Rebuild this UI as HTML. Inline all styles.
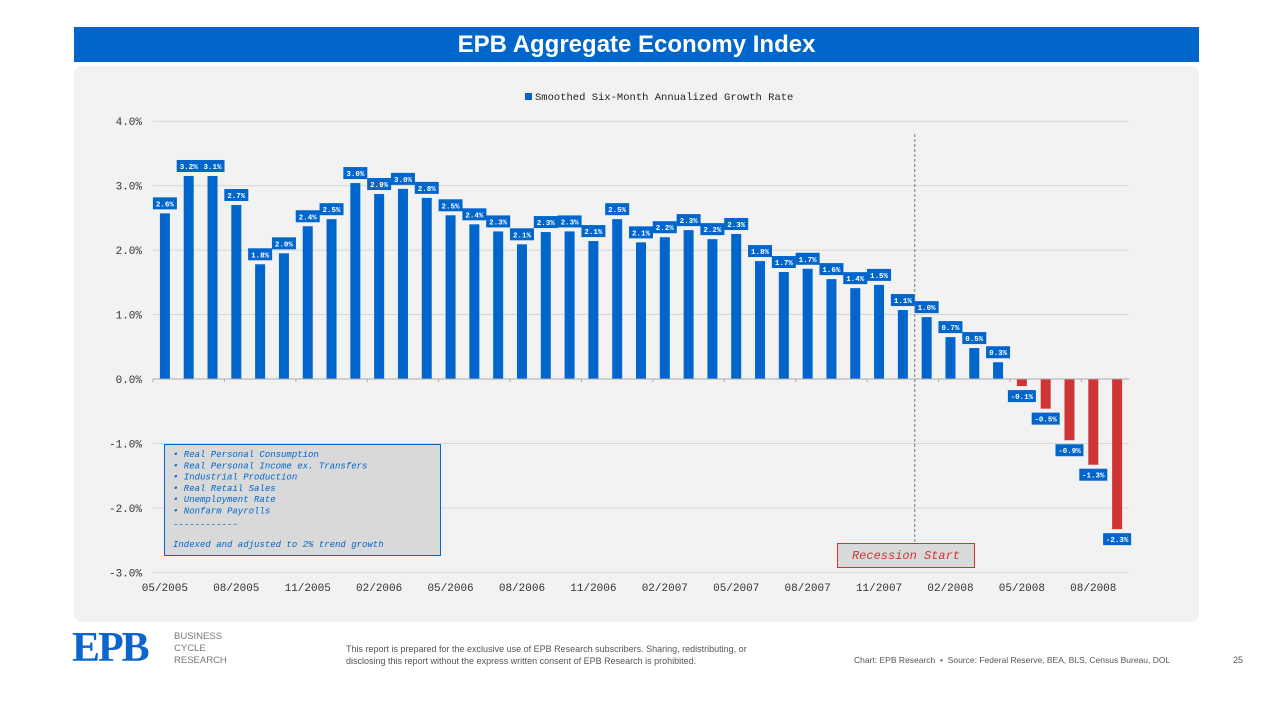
<!DOCTYPE html>
<html><head><meta charset="utf-8"><style>
body{margin:0;width:1275px;height:701px;background:#fff;font-family:"Liberation Sans",sans-serif;position:relative;overflow:hidden}
.abs{position:absolute}
</style></head><body>
<div class="abs" style="left:74px;top:27px;width:1125px;height:35px;background:#0066cc;color:#fff;font-weight:bold;font-size:24px;line-height:35px;text-align:center">EPB Aggregate Economy Index</div>
<div class="abs" style="left:74px;top:66px;width:1125px;height:556px;background:#f2f2f2;border-radius:8px"></div>
<svg class="abs" style="left:0;top:0" width="1275" height="701" id="chart"></svg>
<div class="abs" style="left:72px;top:628px;font-family:'Liberation Serif',serif;font-weight:bold;font-size:42px;color:#0a66cc;line-height:40px;letter-spacing:-2px">EPB</div>
<div class="abs" style="left:174px;top:631px;font-size:9.5px;color:#777;line-height:12px">BUSINESS<br>CYCLE<br>RESEARCH</div>
<div class="abs" style="left:346px;top:643px;font-size:9px;color:#555;line-height:12px">This report is prepared for the exclusive use of EPB Research subscribers. Sharing, redistributing, or<br>disclosing this report without the express written consent of EPB Research is prohibited.</div>
<div class="abs" style="left:854px;top:655px;font-size:8.5px;color:#555">Chart: EPB Research &nbsp;•&nbsp; Source: Federal Reserve, BEA, BLS, Census Bureau, DOL</div>
<div class="abs" style="left:1233px;top:655px;font-size:9px;color:#555">25</div>
<script>
const categories=["05/2005","06/2005","07/2005","08/2005","09/2005","10/2005","11/2005","12/2005","01/2006","02/2006","03/2006","04/2006","05/2006","06/2006","07/2006","08/2006","09/2006","10/2006","11/2006","12/2006","01/2007","02/2007","03/2007","04/2007","05/2007","06/2007","07/2007","08/2007","09/2007","10/2007","11/2007","12/2007","01/2008","02/2008","03/2008","04/2008","05/2008","06/2008","07/2008","08/2008","09/2008"];
const values=[2.57,3.15,3.15,2.70,1.78,1.95,2.37,2.48,3.04,2.87,2.95,2.81,2.54,2.40,2.29,2.09,2.28,2.29,2.14,2.48,2.12,2.20,2.31,2.17,2.25,1.83,1.66,1.71,1.55,1.41,1.46,1.07,0.96,0.65,0.48,0.26,-0.11,-0.46,-0.95,-1.33,-2.33];
const labels=["2.6%","3.2%","3.1%","2.7%","1.8%","2.0%","2.4%","2.5%","3.0%","2.9%","3.0%","2.8%","2.5%","2.4%","2.3%","2.1%","2.3%","2.3%","2.1%","2.5%","2.1%","2.2%","2.3%","2.2%","2.3%","1.8%","1.7%","1.7%","1.6%","1.4%","1.5%","1.1%","1.0%","0.7%","0.5%","0.3%","-0.1%","-0.5%","-0.9%","-1.3%","-2.3%"];
const yTicks=[4,3,2,1,0,-1,-2,-3];
const yTickLabels=["4.0%","3.0%","2.0%","1.0%","0.0%","-1.0%","-2.0%","-3.0%"];
const recessionStart="01/2008";
const svg=document.getElementById('chart');
const NS='http://www.w3.org/2000/svg';
const X0=153,X1=1129,band=(X1-X0)/categories.length;
const y=v=>379-v*64.45;
const xc=i=>X0+band*(i+0.5);
function mk(t,a,txt){const e=document.createElementNS(NS,t);for(const k in a)e.setAttribute(k,a[k]);if(txt!==undefined)e.textContent=txt;svg.appendChild(e);return e;}
const mono='"Liberation Mono",monospace';
yTicks.forEach((v,i)=>{
 if(v!==0){const g=mk('line',{x1:X0,x2:X1,y1:y(v),y2:y(v),stroke:'#d6d6d6','stroke-width':1});
 
 }
 const t=mk('text',{x:142,y:y(v)+4,'text-anchor':'end','font-family':mono,'font-size':11,fill:'#333'},yTickLabels[i]);
 
 
});
const ls=mk('rect',{x:525,y:93,width:7,height:7,fill:'#0066cc'});


const lt=mk('text',{x:535,y:100,'font-family':mono,'font-size':10.5,fill:'#222'},'Smoothed Six-Month Annualized Growth Rate');


values.forEach((v,i)=>{
 const bw=10,x=xc(i)-bw/2;
 const top=Math.min(y(v),y(0)),h=Math.abs(y(v)-y(0));
 const b=mk('rect',{x:x,y:top,width:bw,height:h,fill:v<0?'#d03535':'#0066cc'});
 
 
 const lw=labels[i].length>4?28:24,lh=12;
 const ly=v>=0?y(v)-lh-4:y(v)+4;
 const lb=mk('rect',{x:xc(i)-lw/2,y:ly,width:lw,height:lh,fill:'#0066cc'});
 
 
 const tx=mk('text',{x:xc(i),y:ly+9,'text-anchor':'middle','font-family':mono,'font-size':7.5,'font-weight':'bold',fill:'#fff'},labels[i]);
 
 
});
const ax=mk('line',{x1:X0,x2:X1,y1:y(0),y2:y(0),stroke:'#aaa','stroke-width':1});


categories.forEach((c,i)=>{
 if(i%3!==0)return;
 const tk=mk('line',{x1:X0+band*i,x2:X0+band*i,y1:y(0),y2:y(0)+3,stroke:'#aaa'});
 
 
 const t=mk('text',{x:xc(i),y:591,'text-anchor':'middle','font-family':mono,'font-size':11,fill:'#333'},c);
 
 
});
const ri=categories.indexOf(recessionStart);
const rx=X0+band*ri;
const rl=mk('line',{x1:rx,x2:rx,y1:134,y2:545,stroke:'#777','stroke-dasharray':'3,2','stroke-width':1});


const rb=mk('rect',{x:837.5,y:543.5,width:137,height:24,fill:'#d9d9d9',stroke:'#d03535'});


const rt=mk('text',{x:906,y:559,'text-anchor':'middle','font-family':mono,'font-size':12,'font-style':'italic',fill:'#d03535'},'Recession Start');


const ib=mk('rect',{x:164.5,y:444.5,width:276,height:111,fill:'#d9d9d9',stroke:'#0066cc'});


const items=['Real Personal Consumption','Real Personal Income ex. Transfers','Industrial Production','Real Retail Sales','Unemployment Rate','Nonfarm Payrolls'];
items.forEach((s,i)=>{
 const t=mk('text',{x:173,y:457+i*11.3,'font-family':mono,'font-size':9,'font-style':'italic',fill:'#0066cc'},'•  '+s);
 
 
});
const d=mk('text',{x:173,y:527,'font-family':mono,'font-size':9,fill:'#0066cc'},'------------');


const n=mk('text',{x:173,y:547,'font-family':mono,'font-size':9,'font-style':'italic',fill:'#0066cc'},'Indexed and adjusted to 2% trend growth');


</script>
</body></html>
